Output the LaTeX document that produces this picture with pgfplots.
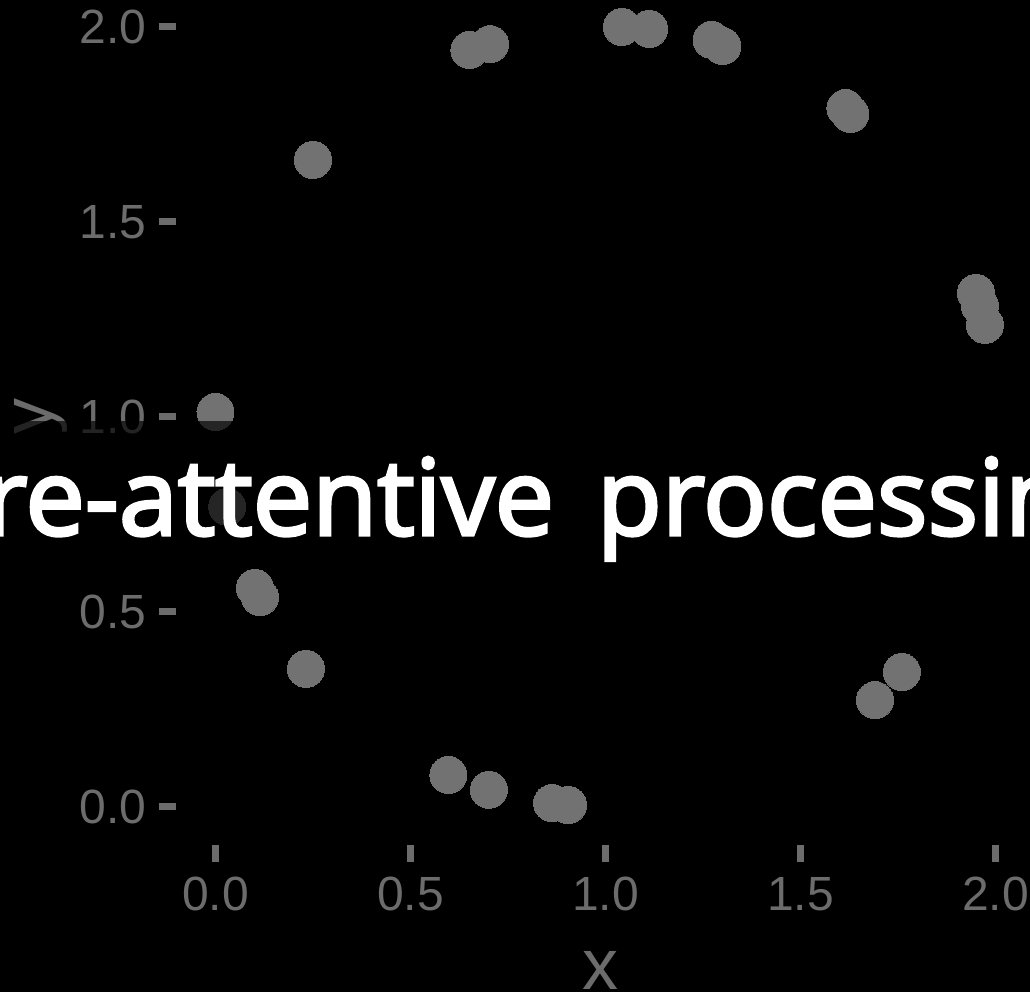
\documentclass[border=0pt]{standalone}
\usepackage{fontspec}
\setmainfont{Liberation Sans}
\newfontfamily\headfont{Open Sans}[FakeBold=3]
\usepackage{pgfplots}
\pgfplotsset{compat=1.18}

\definecolor{pointgray}{HTML}{727272}
\definecolor{textgray}{HTML}{6C6C6C}

\begin{document}
\begin{tikzpicture}
% frame of the page, black background
\useasboundingbox (-88.25pt,-73.6pt) rectangle (426.75pt,422.4pt);
\clip (-88.25pt,-73.6pt) rectangle (426.75pt,422.4pt);
\fill[black] (-88.25pt,-73.6pt) rectangle (426.75pt,422.4pt);

\begin{axis}[
  x=195pt, y=195pt,
  xmin=-0.1, xmax=2.075,
  ymin=-0.097, ymax=2.1,
  axis x line*=bottom, axis y line*=left,
  axis line style={draw=none},
  tick align=outside,
  major tick length=8.5pt,
  tick style={line width=3.5pt, color=textgray},
  xtick={0,0.5,1,1.5,2}, ytick={0,0.5,1,1.5,2},
  xticklabels={0.0,0.5,1.0,1.5,2.0},
  yticklabels={0.0,0.5,1.0,1.5,2.0},
  tick label style={font=\fontsize{24}{28}\selectfont, text=textgray},
  xticklabel style={anchor=north, inner sep=0pt, yshift=-7.5pt},
  yticklabel style={anchor=east, inner sep=0pt, xshift=-6.5pt},
  xlabel={x}, ylabel={y},
  label style={font=\fontsize{36}{40}\selectfont, text=textgray},
  xlabel style={at={(axis description cs:0.5,0)}, anchor=base, inner sep=0pt, yshift=-72.5pt},
  ylabel style={at={(axis description cs:0,0.5)}, anchor=base, inner sep=0pt, yshift=62pt},
  clip=false,
]
\addplot[only marks, mark=*, mark size=9.25pt, color=pointgray,
  mark options={fill=pointgray, draw=pointgray, line width=0pt}] coordinates {
  (0.250,1.659)
  (0.651,1.941) (0.704,1.956)
  (1.042,2.000) (1.112,1.995)
  (1.272,1.967) (1.300,1.951)
  (1.615,1.792) (1.628,1.777)
  (1.950,1.318) (1.960,1.285) (1.973,1.236)
  (0.000,1.013)
  (0.030,0.770)
  (0.101,0.562) (0.114,0.538)
  (0.232,0.354)
  (0.597,0.082) (0.701,0.044)
  (0.863,0.010) (0.904,0.005)
  (1.691,0.274) (1.760,0.346)
};
\end{axis}

% title banner over the plot
\fill[black, opacity=0.67] (-88.25pt,139.4pt) rectangle (426.75pt,211.9pt);
\node[anchor=base east, inner sep=0pt, text=white, font=\headfont\fontsize{53}{60}\selectfont]
  at (189pt,154.9pt) {Pre-attentive};
\node[anchor=base west, inner sep=0pt, text=white, font=\headfont\fontsize{53}{60}\selectfont]
  at (210pt,154.9pt) {processing};
\end{tikzpicture}
\end{document}
